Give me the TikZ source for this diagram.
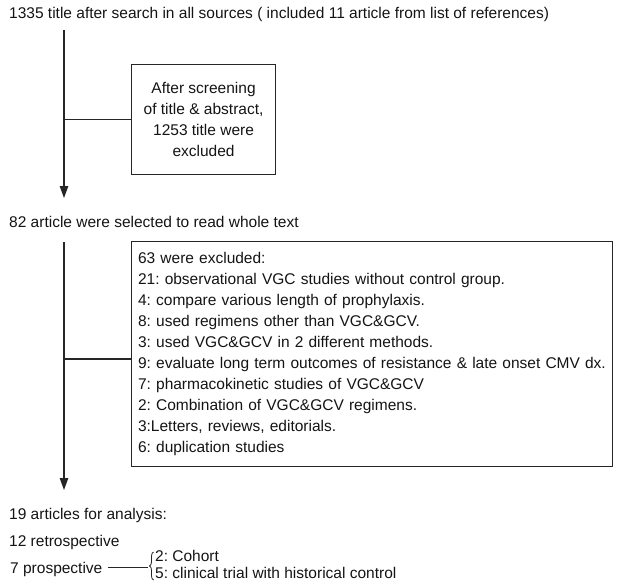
\documentclass[tikz,border=0pt]{standalone}
\usepackage{fontspec}
\setmainfont{Liberation Sans}
\usetikzlibrary{arrows.meta,decorations.pathreplacing}
\frenchspacing
\begin{document}
\begin{tikzpicture}[x=1pt,y=-1pt,
  txt/.style={font=\fontsize{15.5}{21}\selectfont, inner sep=0pt, text=black!92},
  lbl/.style={txt, anchor=base west},
  boxs/.style={draw=black!85, line width=1.1pt, txt},
  ln/.style={draw=black!85, line width=1.1pt},
  arr/.style={ln, -{Triangle[length=12pt,width=8.5pt]}}]
\useasboundingbox (0,0) rectangle (618,582);

% texts
\node[lbl] (t1) at (9,18.5) {1335 title after search in all sources ( included 11 article from list of references)};
\node[lbl] (t2) at (9,227.5) {82 article were selected to read whole text};
\node[lbl] (t3) at (9,519.5) {19 articles for analysis:};
\node[lbl] (t4) at (9,546.5) {12 retrospective};
\node[lbl] (p7) at (10,573.5) {7 prospective};
\node[lbl] (c2) at (155,561.5) {2: Cohort};
\node[lbl] (c5) at (155,578) {5: clinical trial with historical control};

% boxes
\node[boxs, align=center, minimum width=144pt, minimum height=110pt, anchor=north west] (b1) at (131,64)
  {After screening\\of title \& abstract,\\1253 title were\\excluded};
\node[boxs, align=left, text width=468pt, inner xsep=6.5pt, minimum width=481pt, minimum height=225pt, anchor=north west] (b2) at (131,241)
  {63 were excluded:\\
   21: observational VGC studies without control group.\\
   4: compare various length of prophylaxis.\\
   8: used regimens other than VGC\&GCV.\\
   3: used VGC\&GCV in 2 different methods.\\
   9: evaluate long term outcomes of resistance \& late onset CMV dx.\\
   7: pharmacokinetic studies of VGC\&GCV\\
   2: Combination of VGC\&GCV regimens.\\
   3:Letters, reviews, editorials.\\
   6: duplication studies};

% connectors
\coordinate (v1s) at (64,30);
\coordinate (v1e) at (64,198);
\coordinate (v2s) at (64,242);
\coordinate (v2e) at (64,490);
\coordinate (h2) at (64,359);
\draw[arr] (v1s) -- (v1e);
\draw[ln] (v1s |- b1.west) -- (b1.west);
\draw[arr] (v2s) -- (v2e);
\draw[ln] (h2) -- (h2 -| b2.west);

% brace
\coordinate (bt) at (147.5,567);
\coordinate (bb) at (153.5,580);
\coordinate (bu) at (153.5,552);
\draw[draw=black!85, line width=0.8pt, decorate, decoration={brace, amplitude=4pt}] (bb) -- (bu);
\path (p7.east) ++(5pt,0) coordinate (ls);
\draw[draw=black!85, line width=0.9pt] (ls |- bt) -- (bt);
\end{tikzpicture}
\end{document}
